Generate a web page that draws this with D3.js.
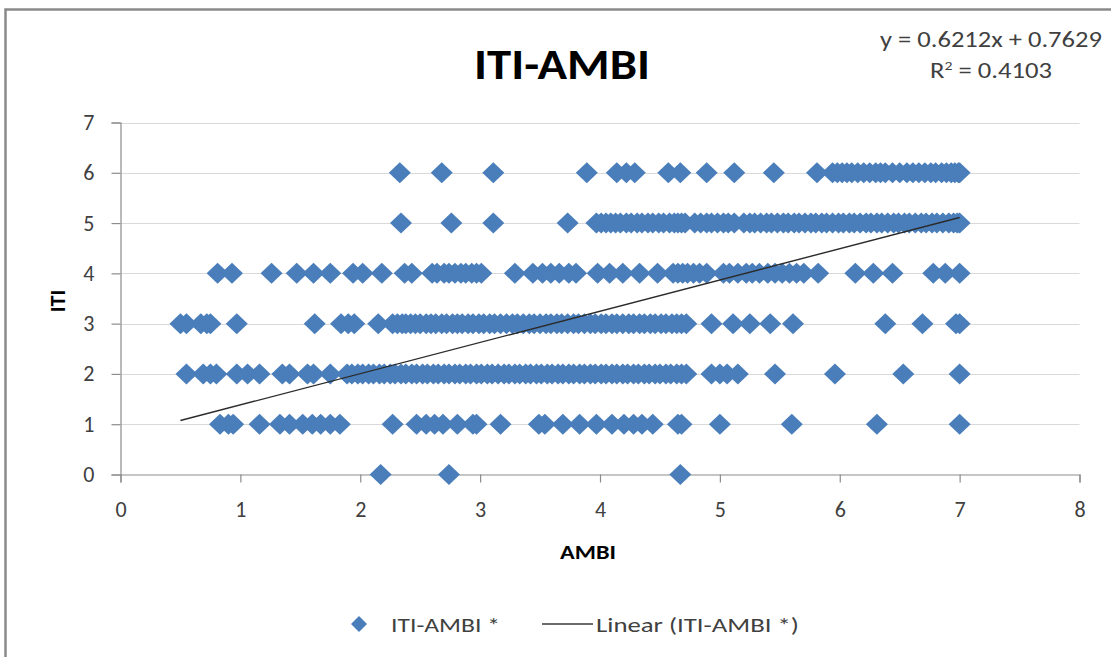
<!DOCTYPE html>
<html>
<head>
<meta charset="utf-8">
<script src="https://cdn.jsdelivr.net/npm/d3@7"></script>
<style>
  html, body { margin: 0; padding: 0; background: #ffffff; }
  svg { display: block; }
  text { font-family: Carlito, Calibri, Lato, "DejaVu Sans", sans-serif; }
</style>
</head>
<body>
<svg id="chart" width="1111" height="657"></svg>
<script>
// AMBI values observed at each ITI level (ITI is an integer score 0–6)
const itiLevels = [0, 1, 2, 3, 4, 5, 6];

const ambiAtIti0 = [2.17, 2.74, 4.67];

const ambiAtIti1 = [0.83, 0.9, 0.94, 1.16, 1.33, 1.41, 1.52, 1.6, 1.67, 1.75, 1.83,
  2.27, 2.47, 2.55, 2.62, 2.69, 2.81, 2.94, 2.97, 3.17, 3.49, 3.54, 3.69, 3.83, 3.97,
  4.1, 4.2, 4.28, 4.35, 4.44, 4.65, 4.68, 5.0, 5.6, 6.31, 7.0];

const ambiAtIti2 = [0.55, 0.69, 0.75, 0.8, 0.97, 1.06, 1.16, 1.35, 1.41, 1.56, 1.61, 1.75,
  1.89, 1.93, 1.98, 2.02, 2.07, 2.11, 2.16, 2.2, 2.25, 2.29, 2.34, 2.38, 2.43, 2.47,
  2.52, 2.56, 2.61, 2.65, 2.7, 2.74, 2.79, 2.83, 2.88, 2.92, 2.97, 3.01, 3.06, 3.1,
  3.15, 3.2, 3.24, 3.29, 3.33, 3.38, 3.42, 3.47, 3.51, 3.56, 3.6, 3.65, 3.69, 3.74,
  3.78, 3.83, 3.87, 3.92, 3.96, 4.01, 4.05, 4.1, 4.14, 4.19, 4.23, 4.28, 4.32, 4.37,
  4.41, 4.46, 4.5, 4.55, 4.59, 4.64, 4.68, 4.72,
  4.93, 5.0, 5.06, 5.15, 5.46, 5.96, 6.53, 7.0];

const ambiAtIti3 = [0.5, 0.55, 0.67, 0.72, 0.75, 0.97, 1.62, 1.84, 1.9, 1.95, 2.15,
  2.27, 2.31, 2.35, 2.38, 2.42, 2.46, 2.5, 2.55, 2.59, 2.63, 2.68, 2.72, 2.77, 2.81,
  2.85, 2.9, 2.94, 2.99, 3.03, 3.08, 3.12, 3.17, 3.22, 3.27, 3.31, 3.36, 3.41, 3.45,
  3.5, 3.55, 3.59, 3.64, 3.68, 3.73, 3.78, 3.82, 3.87, 3.92, 3.96, 4.01, 4.05, 4.1,
  4.14, 4.19, 4.24, 4.28, 4.33, 4.37, 4.42, 4.46, 4.51, 4.55, 4.6, 4.64, 4.68, 4.72,
  4.93, 5.11, 5.25, 5.42, 5.61, 6.38, 6.69, 6.97, 7.0];

const ambiAtIti4 = [0.81, 0.93, 1.26, 1.47, 1.61, 1.75, 1.94, 2.02, 2.18, 2.37, 2.43,
  2.6, 2.64, 2.7, 2.74, 2.79, 2.84, 2.88, 2.93, 2.97, 3.01, 3.29, 3.44, 3.52, 3.59,
  3.66, 3.74, 3.8, 3.98, 4.08, 4.19, 4.33, 4.48, 4.61, 4.65, 4.69, 4.73, 4.78, 4.83,
  4.89, 5.03, 5.08, 5.15, 5.22, 5.27, 5.33, 5.4, 5.46, 5.52, 5.58, 5.64, 5.7, 5.82,
  6.13, 6.28, 6.44, 6.78, 6.88, 7.0];

const ambiAtIti5 = [2.34, 2.76, 3.11, 3.73, 3.97, 4.01, 4.05, 4.09, 4.13, 4.17, 4.22,
  4.26, 4.31, 4.35, 4.4, 4.44, 4.49, 4.53, 4.58, 4.62, 4.65, 4.68, 4.71, 4.79, 4.84,
  4.89, 4.93, 4.98, 5.03, 5.07, 5.12, 5.2, 5.25, 5.29, 5.34, 5.39, 5.43, 5.48, 5.53,
  5.57, 5.62, 5.66, 5.71, 5.76, 5.8, 5.85, 5.89, 5.94, 5.99, 6.03, 6.08, 6.12, 6.17,
  6.22, 6.26, 6.31, 6.35, 6.4, 6.45, 6.49, 6.54, 6.58, 6.63, 6.68, 6.72, 6.77, 6.81,
  6.86, 6.91, 6.95, 6.98, 7.0];

const ambiAtIti6 = [2.33, 2.68, 3.11, 3.89, 4.14, 4.22, 4.29, 4.57, 4.67, 4.89, 5.12,
  5.45, 5.81, 5.94, 5.98, 6.02, 6.06, 6.1, 6.15, 6.2, 6.25, 6.3, 6.34, 6.38, 6.44,
  6.5, 6.56, 6.61, 6.66, 6.71, 6.76, 6.8, 6.85, 6.89, 6.93, 6.96, 6.99, 7.0];

const ambiByLevel = [ambiAtIti0, ambiAtIti1, ambiAtIti2, ambiAtIti3, ambiAtIti4, ambiAtIti5, ambiAtIti6];

// Fitted linear trend, as reported on the chart
const trendSlope = 0.6212;
const trendIntercept = 0.7629;
const trendR2 = 0.4103;

const xTicks = [0, 1, 2, 3, 4, 5, 6, 7, 8];
const yTicks = [0, 1, 2, 3, 4, 5, 6, 7];

const chartTitle = "ITI-AMBI";
const xTitle = "AMBI";
const yTitle = "ITI";
const seriesName = "ITI-AMBI *";
const trendName = "Linear (ITI-AMBI *)";

// ---- build point list ----
const points = [];
itiLevels.forEach((lvl, i) => {
  ambiByLevel[i].forEach(a => points.push({ ambi: a, iti: lvl }));
});

const svg = d3.select("#chart");
const W = 1111, H = 657;
const plot = { left: 120.5, right: 1079.5, top: 122.5, bottom: 474.5 };

const x = d3.scaleLinear().domain([0, 8]).range([plot.left, plot.right]);
const y = d3.scaleLinear().domain([0, 7]).range([plot.bottom, plot.top]);

const blue = "#4a7ebb";
const axisGrey = "#8c8c8c";
const gridGrey = "#d9d9d9";
const textGrey = "#404040";

// Stretch a text horizontally (about its own left/centre point) to a given width
function fitWidth(sel, width) {
  const node = sel.node();
  const bb = node.getBBox();
  const s = width / bb.width;
  const anchor = sel.attr("text-anchor") === "middle" ? bb.x + bb.width / 2 : bb.x;
  sel.attr("transform", `translate(${anchor},0) scale(${s},1) translate(${-anchor},0)`);
  return sel;
}

svg.append("rect").attr("width", W).attr("height", H).attr("fill", "#fff");

// chart frame (top and left edges)
svg.append("path")
  .attr("d", `M5.5,${H} L5.5,9.5 L${W},9.5`)
  .attr("fill", "none").attr("stroke", "#8a8a8a").attr("stroke-width", 2.5);

// horizontal gridlines
svg.append("g").selectAll("line")
  .data(yTicks.filter(t => t > 0))
  .join("line")
  .attr("x1", plot.left).attr("x2", plot.right)
  .attr("y1", d => Math.round(y(d)) + 0.5).attr("y2", d => Math.round(y(d)) + 0.5)
  .attr("stroke", gridGrey).attr("stroke-width", 1.2);

// y axis
const yAxis = d3.axisLeft(y).tickValues(yTicks).tickSize(9).tickPadding(17).tickFormat(d3.format("d"));
const gy = svg.append("g").attr("transform", `translate(${plot.left},0)`).call(yAxis);
gy.select(".domain").attr("stroke", axisGrey).attr("stroke-width", 1.2);
gy.selectAll(".tick line").attr("stroke", axisGrey).attr("stroke-width", 1.2);
gy.selectAll(".tick text").attr("fill", textGrey).style("font-size", "22px");

// x axis
const xAxis = d3.axisBottom(x).tickValues(xTicks).tickSize(8).tickPadding(19).tickFormat(d3.format("d"));
const gx = svg.append("g").attr("transform", `translate(0,${plot.bottom})`).call(xAxis);
gx.select(".domain").attr("stroke", axisGrey).attr("stroke-width", 1.2);
gx.selectAll(".tick line").attr("stroke", axisGrey).attr("stroke-width", 1.2);
gx.selectAll(".tick text").attr("fill", textGrey).style("font-size", "22px");

// diamond markers
const diamond = (hx, hy) => `M0,${-hy} L${hx},0 L0,${hy} L${-hx},0 Z`;
svg.append("g").selectAll("path")
  .data(points)
  .join("path")
  .attr("d", diamond(11, 10.5))
  .attr("transform", d => `translate(${x(d.ambi)},${y(d.iti)})`)
  .attr("fill", blue);

// trend line across the observed AMBI range
const [ambiMin, ambiMax] = d3.extent(points, d => d.ambi);
const trendLine = d3.line().x(d => x(d)).y(d => y(trendSlope * d + trendIntercept));
svg.append("path")
  .datum([ambiMin, ambiMax])
  .attr("d", trendLine)
  .attr("fill", "none").attr("stroke", "#2b2b2b").attr("stroke-width", 1.4);

// title
fitWidth(svg.append("text")
  .attr("x", 562).attr("y", 79)
  .attr("text-anchor", "middle")
  .attr("fill", "#000")
  .style("font-size", "42px").style("font-weight", "bold")
  .text(chartTitle), 176);

// trend equation
fitWidth(svg.append("text")
  .attr("x", 991).attr("y", 47)
  .attr("text-anchor", "middle").attr("fill", textGrey)
  .style("font-size", "22px")
  .text(`y = ${trendSlope}x + ${trendIntercept}`), 222);
const r2 = svg.append("text")
  .attr("x", 991).attr("y", 78)
  .attr("text-anchor", "middle").attr("fill", textGrey)
  .style("font-size", "22px");
r2.append("tspan").text("R");
r2.append("tspan").attr("dy", -8).style("font-size", "13px").text("2");
r2.append("tspan").attr("dy", 8).text(` = ${trendR2}`);
fitWidth(r2, 122);

// axis titles
svg.append("text")
  .attr("transform", "translate(65,301) rotate(-90)")
  .attr("text-anchor", "middle").attr("fill", "#000")
  .style("font-size", "22px").style("font-weight", "bold")
  .text(yTitle);
fitWidth(svg.append("text")
  .attr("x", 588).attr("y", 559)
  .attr("text-anchor", "middle").attr("fill", "#000")
  .style("font-size", "21px").style("font-weight", "bold")
  .text(xTitle), 56);

// legend
const lg = svg.append("g").attr("transform", "translate(0,624)");
lg.append("path").attr("d", diamond(8, 8)).attr("transform", "translate(359,0)").attr("fill", blue);
fitWidth(lg.append("text").attr("x", 391).attr("y", 8).attr("fill", textGrey)
  .style("font-size", "21px").text(seriesName), 109);
lg.append("line").attr("x1", 542).attr("x2", 593).attr("y1", 0).attr("y2", 0)
  .attr("stroke", "#3a3a3a").attr("stroke-width", 1.6);
fitWidth(lg.append("text").attr("x", 596).attr("y", 8).attr("fill", textGrey)
  .style("font-size", "21px").text(trendName), 203);
</script>
</body>
</html>
